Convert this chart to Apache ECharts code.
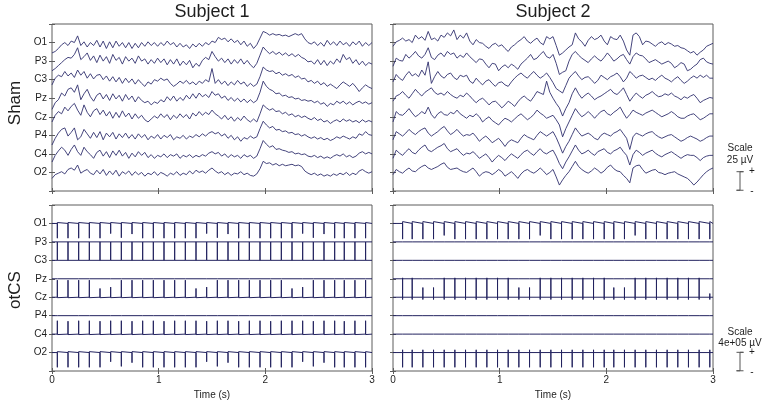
<!DOCTYPE html>
<html>
<head>
<meta charset="utf-8">
<title>Sham vs otCS EEG</title>
<script src="https://cdn.jsdelivr.net/npm/echarts@6/dist/echarts.min.js"></script>
<style>
  html, body { margin: 0; padding: 0; background: #fff; }
  #chart { width: 767px; height: 400px; }
</style>
</head>
<body>
<div id="chart"></div>
<script>
// channels, top to bottom
var channels = ['O1', 'P3', 'C3', 'Pz', 'Cz', 'P4', 'C4', 'O2'];

// sample times of the sham traces (s)
var time = [0,0.03,0.06,0.09,0.12,0.15,0.18,0.21,0.24,0.27,
  0.3,0.33,0.36,0.39,0.42,0.45,0.48,0.51,0.54,0.57,
  0.6,0.63,0.66,0.69,0.72,0.75,0.78,0.81,0.84,0.87,
  0.9,0.93,0.96,0.99,1.02,1.05,1.08,1.11,1.14,1.17,
  1.2,1.23,1.26,1.29,1.32,1.35,1.38,1.41,1.44,1.47,
  1.5,1.53,1.56,1.59,1.62,1.65,1.68,1.71,1.74,1.77,
  1.8,1.83,1.86,1.89,1.92,1.95,1.98,2.01,2.04,2.07,
  2.1,2.13,2.16,2.19,2.22,2.25,2.28,2.31,2.34,2.37,
  2.4,2.43,2.46,2.49,2.52,2.55,2.58,2.61,2.64,2.67,
  2.7,2.73,2.76,2.79,2.82,2.85,2.88,2.91,2.94,2.97,3];

// Sham, subject 1 (µV around each channel's baseline)
var s1_O1 = [-14,-12,-8,-3,0,-4,2,0,9,-4, 1,-6,0,-4,3,-6,2,-8,1,-7, 2,-5,0,-7,0,-8,-1,-7,0,-5,
  1,-4,0,-5,0,-4,2,-3,0,-6, -1,-6,-3,-8,-2,-6,-1,-5,0,-3, 2,0,7,4,6,1,5,0,3,-3,
  2,-5,-1,-8,-3,6,15,13,10,12, 10,11,9,10,8,10,12,10,12,5, 0,-2,1,-4,0,-5,3,-3,1,-4, 2,-3,0,-5,1,-3,2,-5,0,-4, 0];
var s1_P3 = [-13,-10,-6,-2,2,5,4,9,18,2, 6,11,1,7,-2,8,0,6,-3,9, 1,5,-4,6,0,4,-3,7,0,3,
  -4,2,-3,4,-2,3,-5,2,-4,3, -6,0,-5,1,-9,-3,-7,1,5,2, 13,6,0,4,-2,3,-4,2,-3,3,
  -4,1,-5,-9,-3,8,19,14,10,13, 9,12,8,11,7,10,6,9,5,3, -1,0,-4,2,-5,1,-6,0,-4,3, -2,9,2,5,-3,2,-5,0,-6,-2, -4];
var s1_C3 = [-7,2,6,4,11,5,9,3,13,6, 11,2,8,1,6,7,0,5,-2,4, -3,3,-5,2,-4,1,-6,0,-5,-9,
  -3,-6,0,-2,2,-1,1,-5,-9,-6, -2,-5,-1,-6,-3,-7,-2,-5,0,-3, 15,-5,0,-6,-2,-8,-3,-7,-1,-6,
  -3,-9,-5,-9,-6,4,17,13,11,12, 8,10,6,8,5,7,3,5,1,2, -3,-1,-5,-2,-7,-4,-9,-6,-9,-12, -7,-3,-6,-9,-5,-10,-16,-11,-7,-10, -12];
var s1_Pz = [-15,-6,-2,7,3,12,14,8,18,-2, 6,12,2,-4,4,7,-1,5,-3,6, -1,4,-4,5,-2,3,-5,2,-3,-6,
  -4,-9,-5,-7,-2,-5,2,-3,3,-4, 1,-3,4,-1,6,0,7,2,5,1, 9,4,6,0,3,-3,1,-4,0,-5,
  -1,-6,-2,-6,-3,8,23,16,12,10, 6,7,3,4,1,2,-1,0,-3,-2, -4,-3,-6,-4,-8,-6,-11,-7,-9,-4, -7,-4,-8,-5,-9,-6,-4,-7,-5,-8, -6];
var s1_Cz = [-7,2,7,4,13,8,14,18,9,2, 16,6,0,8,11,3,9,1,7,-2, 6,-1,8,0,5,-3,4,-2,2,-4,
  -7,-3,1,-2,4,-1,3,-4,2,-2, 4,-1,3,-3,5,1,7,2,6,3, 9,4,1,-3,2,-4,0,-6,-1,-5,
  1,-4,-7,-3,-7,4,16,12,9,11, 7,8,4,6,2,4,0,2,-1,1, -2,-4,-1,-5,-3,-7,-5,-9,-6,-4, -7,-3,-6,-4,-7,-5,-8,-4,-7,-5, -7];
var s1_P4 = [-13,-4,3,8,10,-1,4,10,-6,-2, 8,2,-4,4,-3,5,-6,3,-2,4, -5,2,-3,3,-4,1,-5,2,-3,1,
  -6,-1,-4,1,-5,0,-3,1,-6,-2, -4,0,-5,-1,-3,1,-2,2,-1,3, 5,2,4,-1,2,-4,0,-6,-2,-8,
  -3,-5,-1,-4,-2,9,19,14,10,12, 7,8,5,6,3,4,1,2,-1,1, -2,-4,-2,-5,-3,-6,-4,-7,-5,-2, -4,-1,-3,-5,-2,-4,2,0,5,1, 0];
var s1_C4 = [-11,-2,4,9,5,-2,6,12,3,-2, 9,3,-1,-6,2,5,-3,3,-5,4, -2,5,-3,2,-6,1,-4,3,-2,2,
  -5,-1,-6,-2,-4,0,-5,-1,-3,0, -6,-2,-4,-1,-5,-2,-4,-1,-3,1, 3,0,2,-3,0,-5,-1,-4,-2,-6,
  -1,-4,-2,-6,-3,7,18,13,9,11, 6,7,5,4,2,3,0,1,-1,0, -3,-4,-2,-5,-3,-6,-4,-6,-3,-1, -3,0,-4,-2,-5,-3,1,3,0,2, 0];
var s1_O2 = [-8,-3,-1,1,-2,4,6,3,10,-1, 2,4,-1,-3,3,-2,4,-4,2,-3, 3,-5,1,-2,2,-4,1,-3,0,-5,
  -1,-3,1,-4,0,-2,-5,-1,-3,1, -4,-1,-3,2,-2,3,0,2,-1,3, 6,2,-1,1,-3,0,-4,-1,-2,1,
  -3,-1,-4,-5,-2,5,15,12,13,10, 12,9,11,9,10,11,9,10,8,2, -1,-3,-1,-4,-2,-5,-3,-5,-2,-4, -1,-3,0,-4,-1,-3,2,4,1,-1, 1];

// Sham, subject 2 (µV)
var s2_O1 = [-5,1,3,6,2,4,0,10,5,8, 3,15,4,6,2,10,7,13,9,17, 4,10,6,13,2,-3,4,0,-1,-5,
  -8,-3,-1,-5,-3,-8,-12,-6,-3,1, 4,8,2,-1,3,6,0,-3,8,5, 8,-4,-17,-14,-10,-6,-3,13,5,1,
  -5,3,8,4,6,10,2,-3,8,5, 4,10,2,-10,-17,10,13,8,-3,2, 1,-2,-5,-1,1,-3,0,-2,-5,-4, -7,-8,-11,-14,-12,-17,-13,-10,-5,-3, -1];
var s2_P3 = [-7,4,1,0,9,4,8,13,7,4, 9,18,5,2,8,11,6,13,9,11, 4,8,5,11,6,2,-2,3,2,-4,
  -9,-3,-4,-13,-8,-5,-9,-4,-7,-11, -4,0,4,9,2,4,9,13,6,4, 9,-3,-18,-15,-13,0,9,13,8,4,
  1,-2,3,7,3,0,5,11,6,0, 3,7,9,2,-4,6,11,8,7,3, -2,0,2,-1,-4,-2,0,-3,-9,-6, -2,-4,-13,-11,-7,-4,2,4,-1,-3, -4];
var s2_C3 = [-3,7,2,-1,6,11,5,8,4,13, 6,24,-5,4,11,5,2,7,9,3, 0,6,4,6,-2,-5,2,-3,-7,-2,
  0,-5,-9,-4,-3,-7,-9,-3,2,6, 9,5,2,7,11,6,2,5,9,3, -4,-12,-15,-18,-8,2,7,11,5,0,
  3,4,0,-5,-1,6,3,0,4,6, 9,4,-3,2,11,7,2,5,6,3, 0,2,-1,3,6,2,0,-3,1,4, -1,-5,-2,2,5,2,6,3,6,2, 2];
var s2_Pz = [-4,3,5,9,4,0,6,12,7,3, 8,11,14,8,5,7,4,9,5,2, 0,4,2,7,3,-2,-6,-2,0,-4,
  -9,-5,-4,-8,-13,-9,-4,-7,-11,-5, 0,3,-1,-4,2,9,7,5,23,8, 0,-7,-13,-24,-14,-6,6,14,6,0,
  4,7,3,-2,1,3,6,9,12,7, 5,9,14,5,-4,2,7,3,0,4, 6,9,5,2,3,6,4,7,3,1, -2,2,0,3,5,0,-6,-3,-1,1, 0];
var s2_Cz = [-7,7,3,2,6,11,5,0,3,7, 4,13,3,-2,4,7,3,2,6,4, 9,4,1,-2,2,0,4,0,-7,-3,
  0,-5,-8,-11,-6,-2,-4,-7,-3,1, 4,0,-4,-1,3,9,5,2,-2,0, 2,-4,-11,-27,-16,-7,2,11,5,0,
  3,7,3,-2,3,7,9,4,2,6, 9,13,5,-2,3,9,6,4,2,5, 7,9,6,3,0,2,4,7,4,0, -2,-2,1,3,4,0,-4,-2,1,4, 4];
var s2_P4 = [-6,5,2,-1,3,8,4,1,5,8, 10,3,-1,2,5,9,12,6,1,4, 8,3,-1,1,0,3,-2,-8,-4,-1,
  -5,-10,-7,-4,-9,-15,-9,-6,-8,-10, -4,1,-2,-4,-6,0,5,2,-1,2, 5,-3,-13,-24,-15,-8,1,10,4,-1,
  1,3,0,-4,-6,0,3,1,-1,3, 5,8,2,-4,-19,-2,3,1,-1,2, 4,5,1,-2,-4,-2,0,1,-2,-5, -8,-6,-3,-1,-3,-5,-8,-6,-3,-1, -1];
var s2_C4 = [-6,5,1,-2,3,7,2,0,5,9, 12,5,3,6,9,11,14,7,3,5, 7,2,-2,1,0,3,-1,-6,-3,0,
  -5,-11,-6,-2,-5,-9,-4,0,-3,-6, -1,3,5,1,-2,3,7,2,0,3, 5,-3,-13,-20,-11,-4,4,12,5,0,
  2,5,1,-2,3,5,7,2,0,4, 6,9,3,-2,-15,-1,5,2,-2,1, 3,5,1,-2,-4,-1,1,3,0,-3, -6,-3,-1,-2,-2,-5,-9,-5,-3,-2, -2];
var s2_O2 = [-3,4,1,-1,3,6,2,1,5,8, 10,6,4,6,8,11,13,7,4,5, 6,3,1,0,3,6,1,-5,-1,1,
  0,-3,0,4,1,-5,-2,1,-3,-8, -2,2,4,1,-1,2,6,2,-3,0, 4,-6,-17,-10,-4,1,8,15,8,4,
  1,-1,2,6,3,-1,2,7,10,5, 2,1,-4,-8,-14,6,9,10,4,-1, 1,3,4,0,-1,-3,-1,0,1,-2, -4,-6,-8,-12,-17,-13,-8,-3,1,4, 6];

// otCS stimulation pulses: times (s) and peak deflection (x 1e5 µV)
var pulseT1 = [0.05,0.15,0.25,0.35,0.45,0.55,0.65,0.75,0.85,0.95,
  1.05,1.15,1.25,1.35,1.45,1.55,1.65,1.75,1.85,1.95,
  2.05,2.15,2.25,2.35,2.45,2.55,2.65,2.74,2.84,2.94];
var pulseT2 = [0.09,0.18,0.28,0.38,0.48,0.58,0.68,0.78,0.88,0.98,
  1.08,1.18,1.28,1.38,1.48,1.58,1.68,1.78,1.88,1.98,
  2.07,2.17,2.27,2.37,2.47,2.57,2.67,2.77,2.87,2.97];

var p1_O1 = [-3.2,-3.2,-3.2,-3.2,-3.2,-2.2,-3.1,-2.3,-3.2,-3.2, -3.2,-3.2,-3.2,-3.2,-2.2,-3.1,-2.3,-3.2,-3.2,-3.2, -3.2,-3.2,-3.2,-2.2,-3.1,-2.3,-3.2,-3.2,-3.2,-3.2];
var p1_P3 = [-4,-4,-4,-4,-4,-4,-4,-4,-4,-4, -4,-4,-4,-4,-4,-4,-4,-4,-4,-4, -4,-4,-4,-4,-4,-4,-4,-4,-4,-4];
var p1_C3 = [0,0,0,0,0,0,0,0,0,0, 0,0,0,0,0,0,0,0,0,0, 0,0,0,0,0,0,0,0,0,0];
var p1_Pz = [0.3,0.3,0.3,0.3,0.3,0.3,0.3,0.3,0.3,0.3, 0.3,0.3,0.3,0.3,0.3,0.3,0.3,0.3,0.3,0.3, 0.3,0.3,0.3,0.3,0.3,0.3,0.3,0.3,0.3,0.3];
var p1_Cz = [3.7,3.7,3.7,3.7,1.9,2.2,3.7,3.7,3.7,3.7, 3.7,3.7,3.7,1.9,2.2,3.7,3.7,3.7,3.7,3.7, 3.7,3.7,1.9,2.2,3.7,3.7,3.7,3.7,3.7,3.7];
var p1_P4 = [0.2,0.2,0.2,0.2,0.2,0.2,0.2,0.2,0.2,0.2, 0.2,0.2,0.2,0.2,0.2,0.2,0.2,0.2,0.2,0.2, 0.2,0.2,0.2,0.2,0.2,0.2,0.2,0.2,0.2,0.2];
var p1_C4 = [2.9,2.8,2.9,2.9,2.8,2.9,2.9,2.8,2.9,2.9, 2.8,2.9,2.9,2.9,2.8,2.9,2.9,2.8,2.9,2.9, 2.8,2.9,2.9,2.9,2.8,2.9,2.9,2.8,2.9,2.9];
var p1_O2 = [-3.2,-3.2,-3.2,-3.2,-3.2,-2.0,-3.0,-2.2,-3.2,-3.2, -3.2,-3.2,-3.2,-3.2,-2.0,-3.0,-2.2,-3.2,-3.2,-3.2, -3.2,-3.2,-3.2,-2.0,-3.0,-2.2,-3.2,-3.2,-3.2,-3.2];
var p1_back = [0.2, 0, 0, 0, -0.1, 0, -0.1, 0.2];

var p2_O1 = [-3.4,-3.4,-3.4,-3.4,-2.6,-3.4,-3.4,-3.4,-3.4,-3.4, -3.4,-3.4,-3.4,-2.6,-3.4,-3.4,-3.4,-3.4,-3.4,-3.4, -3.4,-3.4,-2.6,-3.4,-3.4,-3.4,-3.4,-3.4,-3.4,-3.4];
var p2_P3 = [0,0,0,0,0,0,0,0,0,0, 0,0,0,0,0,0,0,0,0,0, 0,0,0,0,0,0,0,0,0,0];
var p2_C3 = [0.3,0.3,0.3,0.3,0.3,0.3,0.3,0.3,0.3,0.3, 0.3,0.3,0.3,0.3,0.3,0.3,0.3,0.3,0.3,0.3, 0.3,0.3,0.3,0.3,0.3,0.3,0.3,0.3,0.3,0.3];
var p2_Pz = [0,0,0,0,0,0,0,0,0,0, 0,0,0,0,0,0,0,0,0,0, 0,0,0,0,0,0,0,0,0,0];
var p2_Cz = [4.2,4.2,2.1,2.1,4.2,4.2,4.2,4.2,4.2,4.2, 4.2,2.1,2.1,4.2,4.2,4.2,4.2,4.2,4.2,4.2, 2.1,2.1,4.2,4.2,4.2,4.2,4.2,4.2,4.2,0.8];
var p2_P4 = [0,0,0,0,0,0,0,0,0,0, 0,0,0,0,0,0,0,0,0,0, 0,0,0,0,0,0,0,0,0,0];
var p2_C4 = [0.3,0.3,0.3,0.3,0.3,0.3,0.3,0.3,0.3,0.3, 0.3,0.3,0.3,0.3,0.3,0.3,0.3,0.3,0.3,0.3, 0.3,0.3,0.3,0.3,0.3,0.3,0.3,0.3,0.3,0.3];
var p2_O2 = [-3.2,-3.2,-3.2,-3.2,-3.2,-3.2,-3.2,-3.2,-3.2,-3.2, -3.2,-3.2,-3.2,-3.2,-3.2,-3.2,-3.2,-3.2,-3.2,-3.2, -3.2,-3.2,-3.2,-3.2,-3.2,-3.2,-3.2,-3.2,-3.2,-3.2];
var p2_back = [0.4, 0, 0, 0, -0.5, 0, 0, 0.6];

// channel spacing (µV) and scale bars (µV)
var shamStep = 25;
var otcsStep = 4e5;
var shamScale = [1, 26];
var otcsScale = [0.05e5, 4.05e5];

var sham1 = [s1_O1, s1_P3, s1_C3, s1_Pz, s1_Cz, s1_P4, s1_C4, s1_O2];
var sham2 = [s2_O1, s2_P3, s2_C3, s2_Pz, s2_Cz, s2_P4, s2_C4, s2_O2];
var otcs1 = [p1_O1, p1_P3, p1_C3, p1_Pz, p1_Cz, p1_P4, p1_C4, p1_O2];
var otcs2 = [p2_O1, p2_P3, p2_C3, p2_Pz, p2_Cz, p2_P4, p2_C4, p2_O2];

var traceColor = '#30306e';
var pulseColor = '#23235f';
var boxColor = '#5c5c5c';
var textColor = '#1e1e1e';
var font = '"Liberation Sans", Arial, Helvetica, sans-serif';

var panels = [
  { left: 52,  top: 24,  height: 167, step: shamStep, names: true,  time: false },
  { left: 393, top: 24,  height: 167, step: shamStep, names: false, time: false },
  { left: 52,  top: 205, height: 166, step: otcsStep, names: true,  time: true },
  { left: 393, top: 205, height: 166, step: otcsStep, names: false, time: true }
];

var grids = [], xAxes = [], yAxes = [], series = [];

panels.forEach(function (p, g) {
  grids.push({
    left: p.left, top: p.top, width: 320, height: p.height,
    show: true, borderColor: boxColor, borderWidth: 1, backgroundColor: '#fff',
    containLabel: false, outerBoundsMode: 'none'
  });
  var tick = { show: true, inside: true, length: 3, lineStyle: { color: boxColor, width: 1 } };
  xAxes.push({
    type: 'value', gridIndex: g, position: 'bottom', min: 0, max: 3, interval: 1,
    axisLine: { show: false }, axisTick: tick, splitLine: { show: false },
    axisLabel: { show: p.time, fontSize: 10, color: textColor, fontFamily: font, margin: 4 },
    name: p.time ? 'Time (s)' : '', nameLocation: 'middle', nameGap: 19,
    nameTextStyle: { fontSize: 10, color: textColor, fontFamily: font }
  });
  xAxes.push({
    type: 'value', gridIndex: g, position: 'top', min: 0, max: 3, interval: 1,
    axisLine: { show: false }, axisTick: tick, splitLine: { show: false },
    axisLabel: { show: false }
  });
  yAxes.push({
    type: 'value', gridIndex: g, position: 'left', min: 0, max: 9 * p.step, interval: p.step,
    axisLine: { show: false }, axisTick: tick, splitLine: { show: false },
    axisLabel: {
      show: p.names, fontSize: 10, color: textColor, fontFamily: font, margin: 5,
      formatter: function (v) { return channels[8 - Math.round(v / p.step)] || ''; }
    }
  });
  yAxes.push({
    type: 'value', gridIndex: g, position: 'right', min: 0, max: 9 * p.step, interval: p.step,
    axisLine: { show: false }, axisTick: tick, splitLine: { show: false },
    axisLabel: { show: false }
  });
});

// small grids that hold the scale bars, same vertical scale as the panels
[0, 2].forEach(function (g, k) {
  var p = panels[g];
  var gi = grids.length;
  grids.push({ left: 733, top: p.top, width: 14, height: p.height, show: false,
    containLabel: false, outerBoundsMode: 'none' });
  xAxes.push({ type: 'value', gridIndex: gi, min: 0, max: 1, show: false });
  yAxes.push({ type: 'value', gridIndex: gi, min: 0, max: 9 * p.step, show: false });
  var s = k === 0 ? shamScale : otcsScale;
  series.push({
    type: 'line', xAxisIndex: xAxes.length - 1, yAxisIndex: yAxes.length - 1,
    data: [[0.25, s[1]], [0.75, s[1]], [0.5, s[1]], [0.5, s[0]], [0.25, s[0]], [0.75, s[0]]],
    showSymbol: false, symbol: 'none', clip: false,
    lineStyle: { color: '#555', width: 1 }
  });
});

function shamSeries(traces, g) {
  traces.forEach(function (tr, c) {
    var base = (8 - c) * shamStep;
    series.push({
      type: 'line', xAxisIndex: 2 * g, yAxisIndex: 2 * g,
      data: tr.map(function (v, i) { return [time[i], base + v]; }),
      showSymbol: false, symbol: 'none',
      lineStyle: { color: traceColor, width: 0.9 }
    });
  });
}

function otcsSeries(amps, times, back, g) {
  amps.forEach(function (a, c) {
    var base = (8 - c) * otcsStep;
    var pts = [[0, base]];
    times.forEach(function (t, k) {
      pts.push([t, base], [t, base + a[k] * 1e5], [t, base + back[c] * 1e5], [t, base]);
    });
    pts.push([3, base]);
    series.push({
      type: 'line', xAxisIndex: 2 * g, yAxisIndex: 2 * g,
      data: pts, showSymbol: false, symbol: 'none',
      lineStyle: { color: pulseColor, width: 1 }
    });
  });
}

shamSeries(sham1, 0);
shamSeries(sham2, 1);
otcsSeries(otcs1, pulseT1, p1_back, 2);
otcsSeries(otcs2, pulseT2, p2_back, 3);

function label(text, x, y, size, extra) {
  var el = {
    type: 'text', x: x, y: y, silent: true,
    style: { text: text, font: size + 'px ' + font, fill: textColor, align: 'center', verticalAlign: 'middle' }
  };
  if (extra) { for (var k in extra) el[k] = extra[k]; }
  return el;
}

var chart = echarts.init(document.getElementById('chart'));
chart.setOption({
  animation: false,
  backgroundColor: '#fff',
  textStyle: { fontFamily: font },
  grid: grids,
  xAxis: xAxes,
  yAxis: yAxes,
  series: series,
  graphic: [
    label('Subject 1', 212, 12, 18),
    label('Subject 2', 553, 12, 18),
    label('Sham', 15, 103, 17, { rotation: Math.PI / 2 }),
    label('otCS', 15, 290, 17, { rotation: Math.PI / 2 }),
    label('Scale', 740, 148, 10),
    label('25 \u00b5V', 740, 160, 10),
    label('+', 752, 171, 10),
    label('-', 752, 191, 10),
    label('Scale', 740, 332, 10),
    label('4e+05 \u00b5V', 740, 343, 10),
    label('+', 752, 352, 10),
    label('-', 752, 372, 10)
  ]
});
</script>
</body>
</html>
